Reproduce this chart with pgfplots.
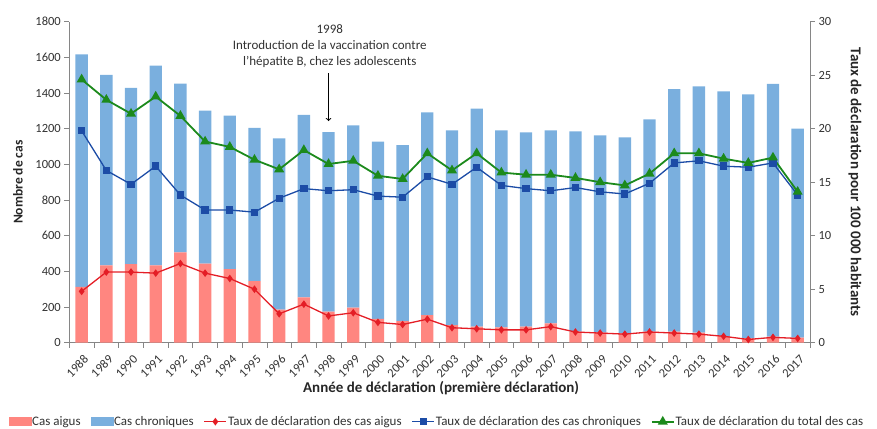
\documentclass[border=0pt]{standalone}
\usepackage{pgfplots}
\pgfplotsset{compat=1.18}
\usepackage{pgfplotstable}
\usepackage{fontspec}
\setmainfont{Carlito}
\definecolor{barred}{RGB}{255,134,128}
\definecolor{barblue}{RGB}{122,175,222}
\definecolor{lred}{RGB}{228,30,38}
\definecolor{lblue}{RGB}{28,76,166}
\definecolor{lgreen}{RGB}{28,138,28}
\definecolor{axgray}{RGB}{134,134,134}
\definecolor{txt}{RGB}{50,50,50}

\pgfplotstableread{
x acute chronic rA rC rT
0  313 1304 4.8 19.8 24.6
1  433 1069 6.6 16.1 22.7
2  440  989 6.6 14.8 21.4
3  433 1121 6.5 16.5 23.0
4  506  947 7.4 13.8 21.2
5  444  858 6.5 12.4 18.8
6  412  862 6.0 12.4 18.3
7  345  860 5.0 12.2 17.1
8  185  961 2.7 13.5 16.2
9  254 1024 3.6 14.4 18.0
10 174 1007 2.5 14.2 16.7
11 196 1022 2.8 14.3 17.0
12 134  993 1.9 13.7 15.6
13 121  987 1.7 13.6 15.3
14 155 1136 2.2 15.5 17.7
15  99 1091 1.4 14.8 16.1
16  90 1223 1.3 16.4 17.7
17  86 1104 1.2 14.7 15.9
18  90 1089 1.2 14.4 15.7
19 108 1082 1.5 14.2 15.7
20  62 1123 1.0 14.5 15.4
21  56 1106 0.9 14.1 15.0
22  52 1099 0.8 13.9 14.7
23  62 1190 1.0 14.9 15.8
24  62 1360 0.9 16.8 17.7
25  56 1381 0.8 17.0 17.7
26  37 1372 0.6 16.5 17.2
27  24 1368 0.3 16.4 16.8
28  34 1417 0.5 16.8 17.3
29  28 1173 0.4 13.8 14.1
}\data

\pgfplotsset{
  common/.style={
    at={(69.3pt,85.3pt)}, anchor=south west,
    scale only axis, width=740.7pt, height=321pt,
    xmin=-0.5, xmax=29.5,
    /pgf/number format/assume math mode=true,
    /pgf/number format/1000 sep={},
    tick label style={font=\fontsize{12.5}{14}\selectfont, text=txt},
    label style={font=\fontsize{15}{17}\selectfont\bfseries, text=black!85},
    axis line style={-, axgray},
    tick style={axgray, line width=0.6pt},
    tick align=outside,
    major tick length=5pt, minor tick length=5pt,
  },
  lineleg/.style={legend image code/.code={\draw[##1, mark repeat=2, mark phase=2] plot coordinates {(0pt,0pt) (11pt,0pt) (22pt,0pt)};}},
  redleg/.style={legend image code/.code={\fill[barred] (0pt,-4pt) rectangle (22pt,4pt);}},
  blueleg/.style={legend image code/.code={\fill[barblue] (0pt,-4pt) rectangle (22pt,4pt);}},
}

\begin{document}
\begin{tikzpicture}
\useasboundingbox (0pt,0pt) rectangle (877pt,428pt);

\begin{axis}[common,
  ybar stacked, bar width=0.5,
  ymin=0, ymax=1800, ytick={0,200,...,1800},
  axis y line*=left, axis x line*=bottom,
  xtick={0,...,29},
  xticklabels={1988,1989,1990,1991,1992,1993,1994,1995,1996,1997,1998,1999,2000,2001,2002,2003,2004,2005,2006,2007,2008,2009,2010,2011,2012,2013,2014,2015,2016,2017},
  major x tick style={draw=none},
  minor xtick={-0.5,0.5,...,29.5},
  xticklabel style={rotate=45, anchor=east, yshift=-10pt, xshift=0pt},
  ylabel={Nombre de cas},
  ylabel style={at={(axis description cs:-0.0693,0.5)}, anchor=center, font=\fontsize{13.5}{15}\selectfont\bfseries},
  xlabel={Année de déclaration (première déclaration)},
  xlabel style={at={(axis description cs:0.502,-0.143)}, anchor=center},
]
\addplot[fill=barred, draw=none] table[x=x,y=acute]{\data};
\addplot[fill=barblue, draw=none] table[x=x,y=chronic]{\data};
\draw[->, line width=1pt, black] (axis cs:10,1512) -- (axis cs:10,1243);
\node[align=center, font=\fontsize{13}{16}\selectfont, text=txt] at (axis cs:10.05,1663)
  {1998\\Introduction de la vaccination contre\\l'hépatite B, chez les adolescents};
\end{axis}

\begin{axis}[common,
  ymin=0, ymax=30, ytick={0,5,...,30},
  axis y line*=right, axis x line=none, xtick=\empty,
  ylabel={Taux de déclaration pour 100 000 habitants},
  ylabel style={at={(axis description cs:1.0608,0.5)}, anchor=center, rotate=180},
  legend columns=5,
  legend style={at={(axis description cs:0.4957,-0.246)}, anchor=center, draw=none,
    font=\fontsize{13}{15}\selectfont, text=txt, inner sep=0pt,
    nodes={inner xsep=1pt},
    /tikz/every odd column/.append style={column sep=0pt},
    /tikz/every even column/.append style={column sep=9pt}},
  legend cell align=left,
]
\addlegendimage{redleg}
\addlegendentry{Cas aigus}
\addlegendimage{blueleg}
\addlegendentry{Cas chroniques}
\addplot[lred, line width=1.3pt, mark=diamond*, mark size=2.8pt, lineleg]
  table[x=x,y=rA]{\data};
\addlegendentry{Taux de déclaration des cas aigus}
\addplot[lblue, line width=1.3pt, mark=square*, mark size=3pt, lineleg]
  table[x=x,y=rC]{\data};
\addlegendentry{Taux de déclaration des cas chroniques}
\addplot[lgreen, line width=1.8pt, mark=triangle*, mark size=4pt, lineleg]
  table[x=x,y=rT]{\data};
\addlegendentry{Taux de déclaration du total des cas}
\end{axis}
\end{tikzpicture}
\end{document}
